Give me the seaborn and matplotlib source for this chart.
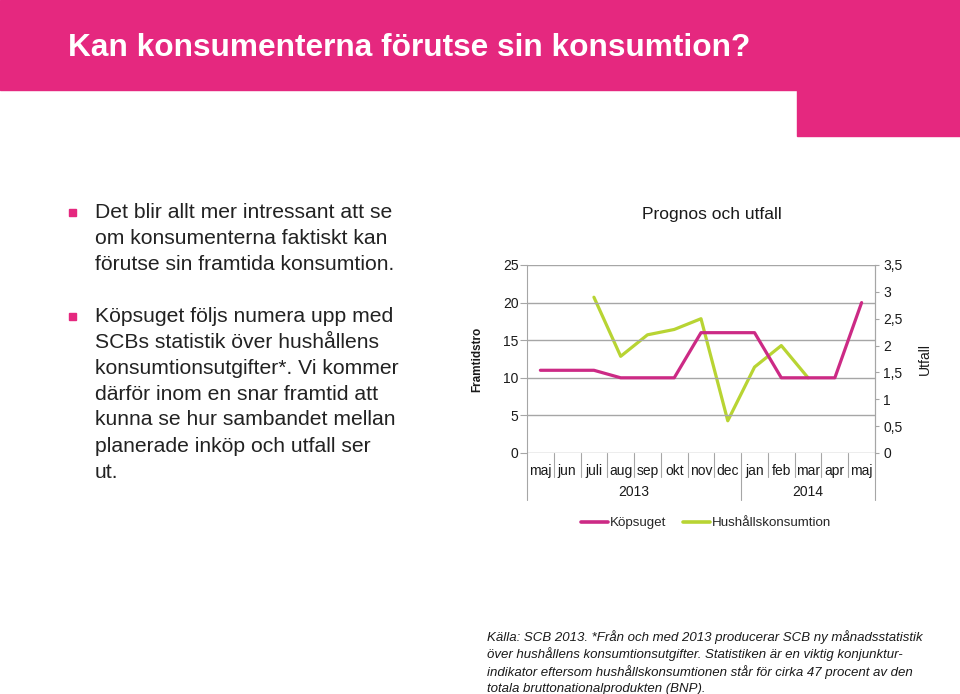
import numpy as np
import pandas as pd
import matplotlib
matplotlib.use("Agg")
import matplotlib.pyplot as plt
from matplotlib.patches import Rectangle
from matplotlib.lines import Line2D
import matplotlib.transforms as mtransforms
import seaborn as sns

# Data
manader = ['maj', 'jun', 'juli', 'aug', 'sep', 'okt', 'nov', 'dec',
           'jan', 'feb', 'mar', 'apr', 'maj']
ar_etiketter = ['2013', '2014']
ar_start = [0, 8]
ar_slut = [7, 12]
kopsuget = [11, 11, 11, 10, 10, 10, 16, 16, 16, 10, 10, 10, 20]
hushall = [np.nan, np.nan, 2.9, 1.8, 2.2, 2.3, 2.5, 0.6, 1.6, 2.0, 1.4, np.nan, np.nan]

rosa = '#E5287F'
linje_rosa = '#CC2A85'
linje_gron = '#B8D433'
textfarg = '#1A1A1A'
gra = '#A6A6A6'

sns.set_style('white')
plt.rcParams['font.family'] = ['Liberation Sans', 'DejaVu Sans']

W, H = 960, 694
fig = plt.figure(figsize=(9.6, 6.94), dpi=100)

def fx(px):
    return px / W

def fy(py):
    return 1 - py / H

# Header
fig.patches.append(Rectangle((0, fy(90)), 1, 90 / H, transform=fig.transFigure,
                             color=rosa, zorder=0))
fig.patches.append(Rectangle((fx(797), fy(136)), 1 - fx(797), 47 / H,
                             transform=fig.transFigure, color=rosa, zorder=0))
fig.text(fx(68), fy(48), 'Kan konsumenterna förutse sin konsumtion?', color='white',
         fontsize=22.8, fontweight='bold', va='center', ha='left')

# Bullets
punkt1 = ['Det blir allt mer intressant att se',
          'om konsumenterna faktiskt kan',
          'förutse sin framtida konsumtion.']
punkt2 = ['Köpsuget följs numera upp med',
          'SCBs statistik över hushållens',
          'konsumtionsutgifter*. Vi kommer',
          'därför inom en snar framtid att',
          'kunna se hur sambandet mellan',
          'planerade inköp och utfall ser',
          'ut.']
for start, rader in [(212, punkt1), (316, punkt2)]:
    fig.patches.append(Rectangle((fx(69), fy(start + 4)), 7 / W, 7 / H,
                                 transform=fig.transFigure, color=rosa))
    for i, rad in enumerate(rader):
        fig.text(fx(95), fy(start + i * 26), rad, fontsize=15.2, color='#222222',
                 va='center', ha='left')

# Chart
ax = fig.add_axes([fx(527), fy(453), fx(875) - fx(527), (453 - 265) / H])
x = np.arange(len(manader))
df = pd.DataFrame({'x': x, 'Köpsuget': kopsuget, 'Hushållskonsumtion': hushall})
sns.lineplot(data=df, x='x', y='Köpsuget', ax=ax, color=linje_rosa, linewidth=2.3)
ax.set_xlim(-0.5, len(manader) - 0.5)
ax.set_ylim(0, 25)
ax.set_yticks(np.arange(0, 26, 5))
ax.yaxis.grid(True, color=gra, linewidth=1)
ax.set_axisbelow(True)
ax.set_xticks(x)
ax.set_xticklabels(manader)
ax.set_xlabel('')
ax.set_ylabel('Framtidstro', fontsize=8.5, fontweight='bold', color=textfarg, labelpad=14)
ax.tick_params(axis='x', length=0, pad=8, labelsize=10, colors=textfarg)
ax.tick_params(axis='y', length=5, color=gra, labelsize=10, labelcolor=textfarg, pad=1)
for s in ['top', 'bottom']:
    ax.spines[s].set_visible(False)
ax.spines['left'].set_color(gra)
ax.spines['right'].set_color(gra)

ax2 = ax.twinx()
sns.lineplot(data=df.dropna(), x='x', y='Hushållskonsumtion', ax=ax2, color=linje_gron,
             linewidth=2.3)
ax2.set_ylim(0, 3.5)
ax2.set_yticks(np.arange(0, 3.6, 0.5))
ax2.set_yticklabels([('%g' % v).replace('.', ',') for v in np.arange(0, 3.6, 0.5)])
ax2.set_ylabel('Utfall', fontsize=10, color=textfarg, labelpad=11)
ax2.tick_params(axis='y', length=3, color=gra, labelsize=10, labelcolor=textfarg, pad=3)
for s in ['top', 'bottom', 'left']:
    ax2.spines[s].set_visible(False)
ax2.spines['right'].set_color(gra)
ax2.grid(False)
ax.set_zorder(ax2.get_zorder() + 1)
ax.patch.set_visible(False)

# Category separators and years
trans = mtransforms.blended_transform_factory(ax.transData, ax.transAxes)
hojd = 453 - 265
for b in np.arange(-0.5, len(manader), 1):
    djup = -47 / hojd if b in (-0.5, 7.5, 12.5) else -24 / hojd
    ax.plot([b, b], [0, djup], color=gra, linewidth=0.8, transform=trans, clip_on=False)
for etikett, a, b in zip(ar_etiketter, ar_start, ar_slut):
    ax.text((a + b) / 2, -(492 - 453) / hojd, etikett, transform=trans, ha='center',
            va='center', fontsize=10, color=textfarg)

fig.text(fx(712), fy(214), 'Prognos och utfall', fontsize=12.5, color=textfarg,
         ha='center', va='center')

handles = [Line2D([], [], color=linje_rosa, linewidth=2.6),
           Line2D([], [], color=linje_gron, linewidth=2.6)]
fig.legend(handles, ['Köpsuget', 'Hushållskonsumtion'], loc='center',
           bbox_to_anchor=(fx(706), fy(523)), ncol=2, frameon=False, fontsize=9.6,
           handlelength=2.0, handletextpad=0.15, columnspacing=1.3,
           borderpad=0, borderaxespad=0)

# Source
kalla = ['Källa: SCB 2013. *Från och med 2013 producerar SCB ny månadsstatistik',
         'över hushållens konsumtionsutgifter. Statistiken är en viktig konjunktur-',
         'indikator eftersom hushållskonsumtionen står för cirka 47 procent av den',
         'totala bruttonationalprodukten (BNP).']
for i, rad in enumerate(kalla):
    fig.text(fx(487), fy(637 + i * 17.3), rad, fontsize=9.5, fontstyle='italic',
             color=textfarg, ha='left', va='center')

fig.savefig('out.png', dpi=100)
